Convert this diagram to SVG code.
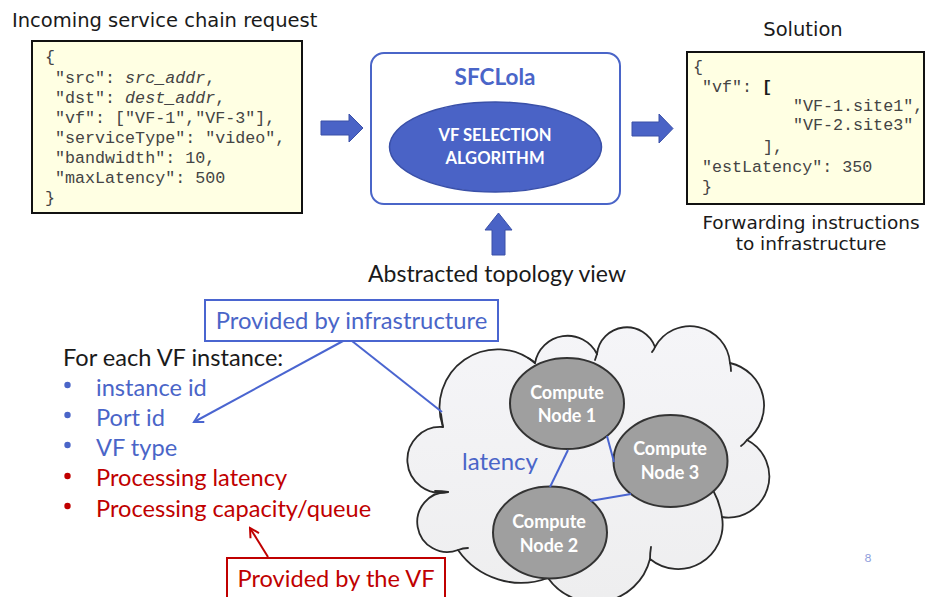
<svg xmlns="http://www.w3.org/2000/svg" width="928" height="597" viewBox="0 0 928 597">
  <defs>
    <style>
      .hdr { font-family: "DejaVu Sans", Verdana, sans-serif; font-size: 19.5px; fill: #1a1a1a; }
      .fwd { font-size: 18.5px; }
      .code { font-family: "Liberation Mono", "Courier New", monospace; font-size: 16.7px; fill: #444; white-space: pre; }
      .code .v { font-style: italic; }
      .code .b { font-weight: bold; fill: #1a1a1a; }
      .json { fill: #ffffe3; stroke: #111; stroke-width: 2; }
      .cal { font-family: Lato, "Open Sans", sans-serif; }
      .blue { fill: #4a65c8; }
      .red { fill: #c00000; }
      .block { fill: #4a63c6; stroke: #3a50a8; stroke-width: 1; }
      .node { fill: #9f9f9f; stroke: #333; stroke-width: 2; }
      .ntxt { font-family: Lato, "Open Sans", sans-serif; font-weight: bold; font-size: 18px; fill: #fff; text-anchor: middle; }
      .link { stroke: #4a65d0; stroke-width: 2; fill: none; }
      .outline { fill: none; stroke: #2a2a2a; stroke-width: 1.8; stroke-linecap: round; }
    </style>
    <linearGradient id="cloudFill" gradientUnits="userSpaceOnUse" x1="0" y1="325" x2="0" y2="597">
      <stop offset="0" stop-color="#f5f5f8"/>
      <stop offset="1" stop-color="#eeeeef"/>
    </linearGradient>
    <marker id="openBlue" viewBox="0 0 12 12" refX="10" refY="6" markerWidth="12" markerHeight="12" markerUnits="userSpaceOnUse" orient="auto">
      <polyline points="1,1 10,6 1,11" fill="none" stroke="#4a65d0" stroke-width="2"/>
    </marker>
    <marker id="openRed" viewBox="0 0 12 12" refX="10" refY="6" markerWidth="12" markerHeight="12" markerUnits="userSpaceOnUse" orient="auto">
      <polyline points="1,1 10,6 1,11" fill="none" stroke="#c00000" stroke-width="2"/>
    </marker>
  </defs>

  <rect width="928" height="597" fill="#fff"/>

  <!-- incoming request -->
  <g id="request">
    <text class="hdr" x="12" y="27">Incoming service chain request</text>
    <rect class="json" x="32" y="41" width="270" height="172"/>
    <text class="code" x="45" y="62">{</text>
    <text class="code" x="55" y="83">"src": <tspan class="v">src_addr</tspan>,</text>
    <text class="code" x="55" y="103">"dst": <tspan class="v">dest_addr</tspan>,</text>
    <text class="code" x="55" y="123">"vf": ["VF-1","VF-3"],</text>
    <text class="code" x="55" y="143">"serviceType": "video",</text>
    <text class="code" x="55" y="163">"bandwidth": 10,</text>
    <text class="code" x="55" y="183">"maxLatency": 500</text>
    <text class="code" x="45" y="203">}</text>
  </g>

  <!-- SFCLola engine -->
  <g id="sfclola">
    <rect x="371" y="53" width="249" height="151" rx="13" fill="#fff" stroke="#4a65c8" stroke-width="2"/>
    <text class="cal blue" x="495" y="85" font-size="22.5" font-weight="bold" text-anchor="middle">SFCLola</text>
    <ellipse cx="495.5" cy="147" rx="106" ry="45" fill="#4a63c6" stroke="#3a50a8" stroke-width="1.5"/>
    <text class="cal" x="495" y="141" font-size="16.6" font-weight="bold" fill="#fff" text-anchor="middle">VF SELECTION</text>
    <text class="cal" x="495" y="164" font-size="16.6" font-weight="bold" fill="#fff" text-anchor="middle">ALGORITHM</text>
  </g>

  <!-- solution -->
  <g id="solution">
    <text class="hdr" x="803" y="36" text-anchor="middle">Solution</text>
    <rect class="json" x="687" y="52" width="237" height="152"/>
    <text class="code" x="693" y="72">{</text>
    <text class="code" x="702" y="92">"vf": <tspan class="b">[</tspan></text>
    <text class="code b" x="793" y="111">"VF-1.site1",</text>
    <text class="code b" x="793" y="130">"VF-2.site3"</text>
    <text class="code b" x="763" y="152">],</text>
    <text class="code" x="702" y="172">"estLatency": 350</text>
    <text class="code" x="702" y="192">}</text>
    <text class="hdr fwd" x="811" y="229" text-anchor="middle">Forwarding instructions</text>
    <text class="hdr fwd" x="811" y="250" text-anchor="middle">to infrastructure</text>
  </g>

  <!-- topology label -->
  <g id="topology-label">
    <text class="cal" x="497" y="282" font-size="23" fill="#1a1a1a" text-anchor="middle">Abstracted topology view</text>
  </g>

  <!-- VF attribute list -->
  <g id="vf-attributes" class="cal" font-size="23.6">
    <text x="63" y="366" fill="#1a1a1a">For each VF instance:</text>
    <g class="blue">
      <circle cx="67.5" cy="385" r="3.2"/>
      <text x="96" y="396">instance id</text>
      <circle cx="67.5" cy="415" r="3.2"/>
      <text x="96" y="426">Port id</text>
      <circle cx="67.5" cy="445" r="3.2"/>
      <text x="96" y="456">VF type</text>
    </g>
    <g class="red">
      <circle cx="67.5" cy="476" r="3.2"/>
      <text x="96" y="486">Processing latency</text>
      <circle cx="67.5" cy="506" r="3.2"/>
      <text x="96" y="517">Processing capacity/queue</text>
    </g>
  </g>

  <!-- callouts -->
  <g id="infra-callout">
    <rect x="205" y="300" width="293" height="41" fill="#fff" stroke="#4a65d0" stroke-width="2"/>
    <text class="cal blue" x="351.5" y="329" font-size="23.8" text-anchor="middle">Provided by infrastructure</text>
  </g>
  <g id="vf-callout">
    <rect x="227" y="558" width="218" height="45" fill="#fff" stroke="#c00000" stroke-width="2"/>
    <text class="cal red" x="336" y="587" font-size="23.6" text-anchor="middle">Provided by the VF</text>
  </g>

  <!-- infrastructure cloud -->
  <g id="cloud">
    <path d="M443,427 A58,58 0 0 1 535,363 A33,33 0 0 1 597,354 A30,30 0 0 1 655,347 A40,40 0 0 1 730,363 A43.5,43.5 0 0 1 747,440 A41,41 0 0 1 722,517 A44.5,44.5 0 0 1 650,559 A57,57 0 0 1 548,578 A77,77 0 0 1 458,550 A30,30 0 1 1 448,492 A33,33 0 1 1 443,427 Z" fill="url(#cloudFill)" stroke="#2a2a2a" stroke-width="1.8" stroke-linejoin="round"/>
    <g class="outline">
      <path d="M441,414 Q442,421 443,427"/>
      <path d="M528,358 Q532,360 535,363"/>
      <path d="M597,354 Q596,357 595,360"/>
      <path d="M655,347 Q654,350 652,352"/>
      <path d="M730,363 Q731,367 731,371"/>
      <path d="M747,440 Q744,444 741,446"/>
      <path d="M713,490 Q720,503 722,517"/>
      <path d="M650,559 Q650,553 651,547"/>
      <path d="M548,578 Q545,575 543,572"/>
      <path d="M458,550 Q463,548 468,548"/>
      <path d="M448,492 Q442,491 435,491"/>
    </g>
    <text class="cal blue" x="462" y="470" font-size="24">latency</text>
  </g>

  <!-- compute nodes -->
  <g id="node1">
    <ellipse class="node" cx="567" cy="403.5" rx="57" ry="45.5"/>
    <text class="ntxt" x="567" y="399">Compute</text>
    <text class="ntxt" x="567" y="422">Node 1</text>
  </g>
  <g id="node3">
    <ellipse class="node" cx="670.5" cy="461" rx="57" ry="46"/>
    <text class="ntxt" x="670" y="455">Compute</text>
    <text class="ntxt" x="670" y="479">Node 3</text>
  </g>
  <g id="node2">
    <ellipse class="node" cx="550" cy="532.5" rx="57" ry="46"/>
    <text class="ntxt" x="549" y="528">Compute</text>
    <text class="ntxt" x="549" y="552">Node 2</text>
  </g>

  <!-- connectors -->
  <g id="connectors">
    <polygon class="block" points="321,121 349,121 349,114 363,128 349,142 349,135 321,135"/>
    <polygon class="block" points="632,122 659,122 659,114 673,128.5 659,143 659,136 632,136"/>
    <polygon class="block" points="492,255 492,230 485,230 498.5,213 512,230 505,230 505,255"/>
    <line class="link" x1="568" y1="450" x2="550" y2="487"/>
    <line class="link" x1="607" y1="436" x2="614" y2="462"/>
    <line class="link" x1="590" y1="501" x2="631" y2="494"/>
    <line class="link" x1="352" y1="341" x2="442" y2="412"/>
    <line class="link" x1="343" y1="341" x2="194" y2="422" marker-end="url(#openBlue)"/>
    <line x1="268" y1="557" x2="250" y2="528" stroke="#c00000" stroke-width="2" marker-end="url(#openRed)"/>
  </g>

  <text x="868" y="562" font-family="Lato, sans-serif" font-size="12" fill="#8fa0dc" text-anchor="middle">8</text>
</svg>
